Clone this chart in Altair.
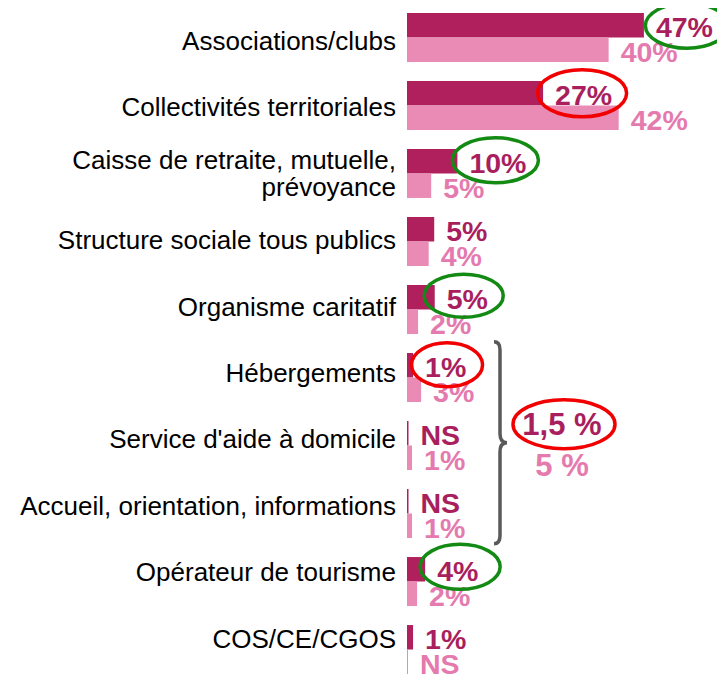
import altair as alt
import pandas as pd

# ---------------- data ----------------
categories = [
    "Associations/clubs",
    "Collectivités territoriales",
    "Caisse de retraite, mutuelle,|prévoyance",
    "Structure sociale tous publics",
    "Organisme caritatif",
    "Hébergements",
    "Service d'aide à domicile",
    "Accueil, orientation, informations",
    "Opérateur de tourisme",
    "COS/CE/CGOS",
]
series = ["Série 1", "Série 2"]
dark_values = [47, 27, 10, 5.4, 5.5, 1.2, 0.3, 0.3, 3.6, 1.2]
light_values = [40, 42, 4.8, 4.3, 2.2, 2.8, 1.0, 1.0, 2.0, 0.2]
dark_labels = ["47%", "27%", "10%", "5%", "5%", "1%", "NS", "NS", "4%", "1%"]
light_labels = ["40%", "42%", "5%", "4%", "2%", "3%", "1%", "1%", "2%", "NS"]

# circled labels (category index, colour)
circled_idx = [0, 1, 2, 4, 5, 8]
circled_col = ["green", "red", "green", "green", "red", "green"]
# ellipse styling: half-width, half-height, x/y offset from the bar end (px)
ell_rx = [41.5, 44.5, 43, 39.5, 35.5, 40]
ell_ry = [22.5, 23.5, 22.5, 21.5, 22, 22.5]
ell_dx = [43, 39, 38, 29, 34, 35]
ell_dy = [0.5, 0, -1, -1.5, -0.5, -2.5]

# group annotation (bracket)
group_cat = "Service d'aide à domicile"
group_dark = "1,5 %"
group_light = "5 %"

# ---------------- styles ----------------
bar_colors = ["#B0205C", "#E98BB5"]
text_colors = ["#A91F5E", "#E47AAE"]
green = "#138A13"
red = "#F20000"
FONT = "Liberation Sans"


def ellipse_path(rx, ry, cx, cy):
    return (f"M {cx - rx} {cy} A {rx} {ry} 0 1 0 {cx + rx} {cy} "
            f"A {rx} {ry} 0 1 0 {cx - rx} {cy} Z")


rows = []
for i, c in enumerate(categories):
    rows.append({"cat": c, "series": series[0], "value": dark_values[i], "label": dark_labels[i]})
    rows.append({"cat": c, "series": series[1], "value": light_values[i], "label": light_labels[i]})
df = pd.DataFrame(rows)

cat_df = pd.DataFrame({"cat": categories})

ell_rows = []
for k, i in enumerate(circled_idx):
    ell_rows.append({
        "cat": categories[i], "series": series[0], "value": dark_values[i],
        "shape": ellipse_path(ell_rx[k], ell_ry[k], ell_dx[k], ell_dy[k]),
        "col": green if circled_col[k] == "green" else red,
    })
ell_df = pd.DataFrame(ell_rows)

grp_dark_df = pd.DataFrame({"cat": [group_cat], "label": [group_dark]})
grp_light_df = pd.DataFrame({"cat": [group_cat], "label": [group_light]})

# ---------------- encodings ----------------
y_enc = alt.Y(
    "cat:N", sort=categories, title=None,
    scale=alt.Scale(domain=categories, paddingInner=0.28, paddingOuter=0, range=[0, 661]),
    axis=None,
)
# category names sit on a slightly tighter pitch than the bars
y_lab = alt.Y(
    "cat:N", sort=categories, title=None,
    scale=alt.Scale(type="point", domain=categories, padding=0, range=[29, 626.6]),
    axis=None,
)
yoff = alt.YOffset("series:N", scale=alt.Scale(domain=series, paddingInner=0, paddingOuter=0))
x_enc = alt.X("value:Q", scale=alt.Scale(domain=[0, 61.5], nice=False, zero=True), axis=None)

bars = alt.Chart(df).mark_bar().encode(
    x=x_enc, y=y_enc, yOffset=yoff,
    color=alt.Color("series:N", scale=alt.Scale(domain=series, range=bar_colors), legend=None),
)

labels = alt.Chart(df).mark_text(
    align="left", baseline="alphabetic", dx=12, dy=12, font=FONT, fontSize=28.5, fontWeight="bold"
).encode(
    x=x_enc, y=y_enc, yOffset=yoff, text="label:N",
    color=alt.Color("series:N", scale=alt.Scale(domain=series, range=text_colors), legend=None),
)

cat_single = alt.Chart(cat_df).transform_filter(
    "indexof(datum.cat, '|') < 0"
).mark_text(
    align="right", baseline="middle", font=FONT, fontSize=26, color="black"
).encode(x=alt.value(-11), y=y_lab, text="cat:N")

cat_multi = alt.Chart(cat_df).transform_filter(
    "indexof(datum.cat, '|') >= 0"
).transform_calculate(
    lines="split(datum.cat, '|')"
).mark_text(
    align="right", baseline="middle", font=FONT, fontSize=26, color="black",
    lineHeight=27, dy=-13.5
).encode(x=alt.value(-11), y=y_lab, text="lines:N")

ellipses = alt.Chart(ell_df).mark_point(filled=False, size=4, strokeWidth=3.5, opacity=1).encode(
    x=x_enc, y=y_enc, yOffset=yoff,
    shape=alt.Shape("shape:N", scale=None),
    stroke=alt.Stroke("col:N", scale=None),
)

bracket_path = ("M -6 -101 Q 0 -101 0 -93 L 0 -9 Q 0 0 7 0 "
                "Q 0 0 0 9 L 0 93 Q 0 101 -6 101")
bracket = alt.Chart(grp_dark_df).mark_point(
    filled=False, size=4, strokeWidth=3.5, opacity=1, color="#5A5A5A", shape=bracket_path
).encode(x=alt.value(93), y=y_enc)

grp_text_dark = alt.Chart(grp_dark_df).mark_text(
    align="center", baseline="alphabetic", dy=-7.5, font=FONT, fontSize=31, fontWeight="bold",
    color=text_colors[0]
).encode(x=alt.value(155), y=y_enc, text="label:N")

grp_text_light = alt.Chart(grp_light_df).mark_text(
    align="center", baseline="alphabetic", dy=33.5, font=FONT, fontSize=31, fontWeight="bold",
    color=text_colors[1]
).encode(x=alt.value(155), y=y_enc, text="label:N")

big_ell = alt.Chart(grp_dark_df).mark_point(
    filled=False, size=4, strokeWidth=3.5, opacity=1, color=red,
    shape=ellipse_path(51, 24.5, 0, -18.5)
).encode(x=alt.value(157), y=y_enc)

chart = alt.layer(
    bars, labels, cat_single, cat_multi, ellipses, bracket, grp_text_dark, grp_text_light, big_ell
).resolve_scale(
    color="independent", y="independent"
).properties(
    width=310, height=662,
    autosize=alt.AutoSizeParams(type="none"),
    padding={"left": 399, "top": 5, "right": 0, "bottom": 0},
    background="white",
).configure_view(stroke=None)

chart.save("out.html", embed_options={"renderer": "svg", "actions": False})
